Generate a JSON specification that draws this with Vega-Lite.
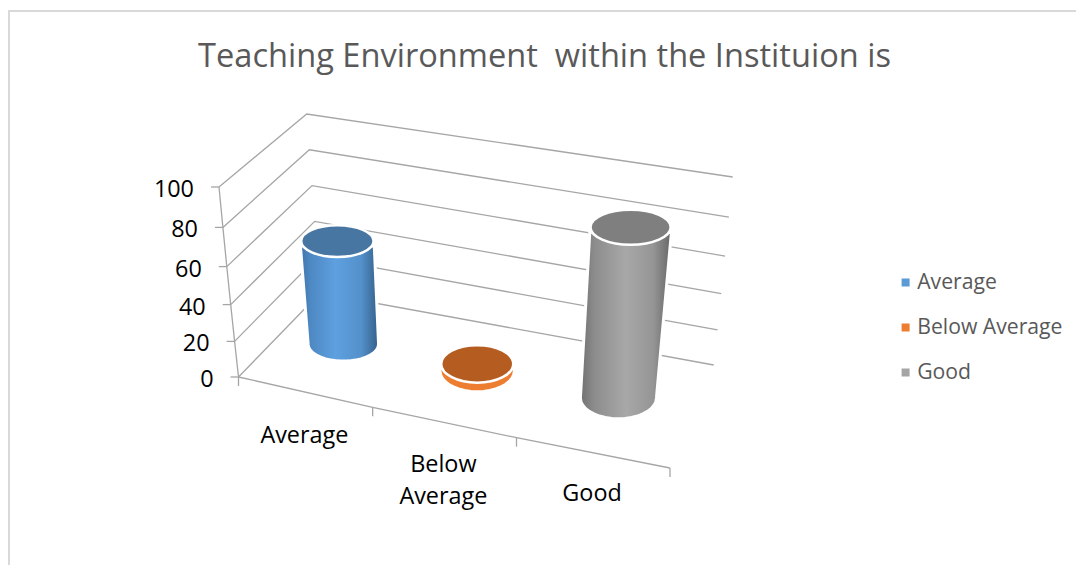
{
"$schema":"https://vega.github.io/schema/vega-lite/v6.json",
"width":1069,"height":556,
"autosize":{"type":"none"},
"padding":{"left":9,"top":11,"right":0,"bottom":0},
"background":"white",
"view":{"stroke":"#d9d9d9","strokeWidth":2},
"config":{"font":"Open Sans"},
"title":{"text":"Teaching Environment \u00a0within the Instituion is","fontSize":32.6,"font":"Open Sans","fontWeight":"normal","color":"#595959","anchor":"middle","frame":"group","offset":-63,"dx":1},
"datasets":{
"categories":[{"category":"Average","value":57},{"category":"Below Average","value":4},{"category":"Good","value":93}],
"levels":[{"level":0},{"level":20},{"level":40},{"level":60},{"level":80},{"level":100}],
"boundaries":[{"boundary":0},{"boundary":1},{"boundary":2},{"boundary":3}]
},
"encoding":{
"x":{"field":"sx","type":"quantitative","axis":null,"scale":{"domain":[9,1078],"range":[0,1069],"nice":false,"zero":false}},
"y":{"field":"sy","type":"quantitative","axis":null,"scale":{"domain":[11,567],"range":[0,556],"nice":false,"zero":false}}
},
"layer":[
{"data":{"name":"levels"},
"transform":[
{"calculate":"238.5-0.195*datum.level","as":"flx"},
{"calculate":"377-1.75*datum.level-0.0015*datum.level*datum.level","as":"fly"},
{"calculate":"320-0.133*datum.level","as":"blx"},
{"calculate":"293-1.79*datum.level","as":"bly"},
{"calculate":"713.7+0.19*datum.level","as":"brx"},
{"calculate":"365-1.72*datum.level-0.0016*datum.level*datum.level","as":"bry"}
],
"layer":[
{"transform":[
{"calculate":"[0,1,2]","as":"step"},{"flatten":["step"]},
{"calculate":"[datum.flx,datum.blx,datum.brx][datum.step]","as":"sx"},
{"calculate":"[datum.fly,datum.bly,datum.bry][datum.step]","as":"sy"}],
"mark":{"type":"line","stroke":"#a6a6a6","strokeWidth":1.3},
"encoding":{"detail":{"field":"level"},"order":{"field":"step"}}},
{"transform":[{"calculate":"datum.flx","as":"sx"},{"calculate":"datum.fly","as":"sy"}],
"mark":{"type":"line","stroke":"#a6a6a6","strokeWidth":1.3},
"encoding":{"order":{"field":"level"}}},
{"transform":[{"calculate":"datum.flx-8","as":"sx"},{"calculate":"datum.flx","as":"sx2"},{"calculate":"datum.fly","as":"sy"}],
"mark":{"type":"rule","stroke":"#a6a6a6","strokeWidth":1.3},
"encoding":{"x2":{"field":"sx2"}}},
{"transform":[{"calculate":"datum.flx-25","as":"sx"},{"calculate":"datum.fly+3","as":"sy"}],
"mark":{"type":"text","align":"right","baseline":"middle","fontSize":23.4,"font":"Open Sans","color":"#000000"},
"encoding":{"text":{"field":"level","type":"quantitative"}}}
]},
{"data":{"name":"boundaries"},
"transform":[
{"calculate":"datum.boundary/3","as":"t"},
{"calculate":"238.5+388*datum.t+43.5*datum.t*datum.t","as":"sx"},
{"calculate":"377+91*datum.t","as":"sy"},
{"calculate":"datum.sy+9","as":"sy2"}
],
"layer":[
{"mark":{"type":"line","stroke":"#a6a6a6","strokeWidth":1.3},"encoding":{"order":{"field":"boundary"}}},
{"mark":{"type":"rule","stroke":"#a6a6a6","strokeWidth":1.3},"encoding":{"y2":{"field":"sy2"}}}
]},
{"data":{"name":"categories"},
"transform":[
{"calculate":"indexof(['Average','Below Average','Good'],datum.category)","as":"i"},
{"calculate":"(datum.i+0.5)/3","as":"t"},
{"calculate":"279.25+379*datum.t+33.6*datum.t*datum.t","as":"bx"},
{"calculate":"330.8+80.55*datum.t","as":"by"},
{"calculate":"-0.164+0.354*datum.t","as":"lean"},
{"calculate":"datum.bx+datum.lean*datum.value","as":"tx"},
{"calculate":"datum.by-1.77*datum.value-0.0007*datum.value*datum.value","as":"ty"},
{"calculate":"34.5+4.2*datum.t","as":"hw0"},
{"calculate":"datum.hw0+0.03*datum.value","as":"hw1"},
{"calculate":"[0.48,0.55,0.55][datum.i]","as":"rb"},
{"calculate":"[0.44,0.52,0.435][datum.i]","as":"rt"},
{"calculate":"'M-1,0A1,'+datum.rt+' 0 1,1 1,0A1,'+datum.rt+' 0 1,1 -1,0Z'","as":"shapeTop"},
{"calculate":"pow(2*(datum.hw1-0.7),2)","as":"sizeTop"}
],
"layer":[
{"transform":[{"calculate":"datum.bx","as":"sx"},{"calculate":"datum.by","as":"sy"}],
"mark":{"type":"point","filled":true,"shape":"square","opacity":0,"size":1},
"encoding":{"color":{"field":"category","type":"nominal","scale":{"domain":["Average","Below Average","Good"],"range":["#5b9bd5","#ed7d31","#a5a5a5"]},
"legend":{"title":null,"orient":"none","legendX":886,"legendY":257,"symbolType":"square","symbolSize":64,"symbolOpacity":1,"symbolStrokeWidth":0,"labelFontSize":21.2,"labelFont":"Open Sans","labelColor":"#595959","labelLimit":300,"rowPadding":16,"labelOffset":1,"clipHeight":29}}}},

{"transform":[{"filter":"datum.i==0"},{"calculate":"[-1,0,10,20,30,40,50,60,70,80,85,90]","as":"e"},{"flatten":["e"]},
{"calculate":"datum.e<0?datum.ty+5:datum.by+datum.rb*datum.hw0*sin(datum.e*PI/180)","as":"sy"},
{"calculate":"datum.e<0?datum.tx-datum.hw1:datum.bx-datum.hw0*cos(datum.e*PI/180)","as":"sx"},
{"calculate":"datum.e<0?datum.tx+datum.hw1:datum.bx+datum.hw0*cos(datum.e*PI/180)","as":"sx2"}],
"mark":{"type":"area","orient":"horizontal","stroke":"white","strokeWidth":3,"fill":{"gradient":"linear","x1":0,"y1":0,"x2":1,"y2":0,"stops":[{"offset":0,"color":"#3f74a8"},{"offset":0.12,"color":"#4d88c2"},{"offset":0.45,"color":"#5ea0e0"},{"offset":0.78,"color":"#5490ca"},{"offset":1,"color":"#335f88"}]}},
"encoding":{"x2":{"field":"sx2"}}},
{"transform":[{"filter":"datum.i==1"},{"calculate":"[-1,0,10,20,30,40,50,60,70,80,85,90]","as":"e"},{"flatten":["e"]},
{"calculate":"datum.e<0?datum.ty+5:datum.by+datum.rb*datum.hw0*sin(datum.e*PI/180)","as":"sy"},
{"calculate":"datum.e<0?datum.tx-datum.hw1:datum.bx-datum.hw0*cos(datum.e*PI/180)","as":"sx"},
{"calculate":"datum.e<0?datum.tx+datum.hw1:datum.bx+datum.hw0*cos(datum.e*PI/180)","as":"sx2"}],
"mark":{"type":"area","orient":"horizontal","stroke":"white","strokeWidth":2,"fill":"#ed7d31"},
"encoding":{"x2":{"field":"sx2"}}},
{"transform":[{"filter":"datum.i==2"},{"calculate":"[-1,0,10,20,30,40,50,60,70,80,85,90]","as":"e"},{"flatten":["e"]},
{"calculate":"datum.e<0?datum.ty+5:datum.by+datum.rb*datum.hw0*sin(datum.e*PI/180)","as":"sy"},
{"calculate":"datum.e<0?datum.tx-datum.hw1:datum.bx-datum.hw0*cos(datum.e*PI/180)","as":"sx"},
{"calculate":"datum.e<0?datum.tx+datum.hw1:datum.bx+datum.hw0*cos(datum.e*PI/180)","as":"sx2"}],
"mark":{"type":"area","orient":"horizontal","stroke":"white","strokeWidth":3,"fill":{"gradient":"linear","x1":0,"y1":0,"x2":1,"y2":0,"stops":[{"offset":0,"color":"#707070"},{"offset":0.15,"color":"#8c8c8c"},{"offset":0.5,"color":"#a8a8a8"},{"offset":0.8,"color":"#959595"},{"offset":1,"color":"#666666"}]}},
"encoding":{"x2":{"field":"sx2"}}},

{"transform":[{"filter":"datum.i==0"},{"calculate":"datum.tx","as":"sx"},{"calculate":"datum.ty","as":"sy"}],
"mark":{"type":"point","filled":true,"fill":"#4876a3","stroke":"white","strokeWidth":2.5,"opacity":1},
"encoding":{"shape":{"field":"shapeTop","type":"nominal","scale":null},"size":{"field":"sizeTop","type":"quantitative","scale":null}}},
{"transform":[{"filter":"datum.i==1"},{"calculate":"datum.tx","as":"sx"},{"calculate":"datum.ty","as":"sy"}],
"mark":{"type":"point","filled":true,"fill":"#b55d20","stroke":"white","strokeWidth":2.5,"opacity":1},
"encoding":{"shape":{"field":"shapeTop","type":"nominal","scale":null},"size":{"field":"sizeTop","type":"quantitative","scale":null}}},
{"transform":[{"filter":"datum.i==2"},{"calculate":"datum.tx","as":"sx"},{"calculate":"datum.ty","as":"sy"}],
"mark":{"type":"point","filled":true,"fill":"#7f7f7f","stroke":"white","strokeWidth":2.5,"opacity":1},
"encoding":{"shape":{"field":"shapeTop","type":"nominal","scale":null},"size":{"field":"sizeTop","type":"quantitative","scale":null}}},

{"transform":[
{"calculate":"238.5+388*datum.t+43.5*datum.t*datum.t","as":"sx"},
{"calculate":"377+88*datum.t+33","as":"sy"}],
"mark":{"type":"text","align":"center","baseline":"top","fontSize":23.4,"font":"Open Sans","color":"#000000","lineBreak":" ","lineHeight":32},
"encoding":{"text":{"field":"category","type":"nominal"}}}
]}
]
}
